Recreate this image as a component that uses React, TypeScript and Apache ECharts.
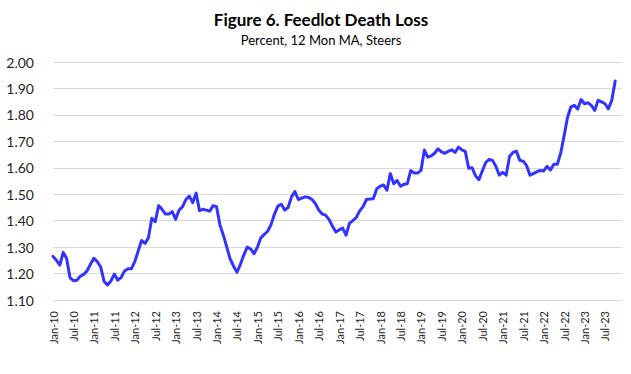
import React, { useEffect, useRef } from "react";
import * as echarts from "echarts";

const v2010 = [1.265, 1.25, 1.232, 1.28, 1.257, 1.184, 1.173, 1.175, 1.19, 1.197, 1.21, 1.235];
const v2011 = [1.258, 1.245, 1.225, 1.17, 1.157, 1.172, 1.198, 1.175, 1.185, 1.21, 1.218, 1.218];
const v2012 = [1.245, 1.285, 1.325, 1.314, 1.335, 1.409, 1.396, 1.457, 1.443, 1.425, 1.425, 1.434];
const v2013 = [1.405, 1.44, 1.452, 1.48, 1.493, 1.468, 1.504, 1.438, 1.443, 1.44, 1.436, 1.457];
const v2014 = [1.453, 1.384, 1.345, 1.3, 1.255, 1.228, 1.205, 1.235, 1.27, 1.3, 1.293, 1.275];
const v2015 = [1.3, 1.335, 1.348, 1.36, 1.385, 1.425, 1.455, 1.462, 1.44, 1.45, 1.49, 1.51];
const v2016 = [1.48, 1.485, 1.49, 1.488, 1.48, 1.465, 1.44, 1.425, 1.421, 1.405, 1.38, 1.357];
const v2017 = [1.365, 1.372, 1.345, 1.39, 1.4, 1.412, 1.437, 1.453, 1.48, 1.482, 1.483, 1.52];
const v2018 = [1.53, 1.535, 1.515, 1.578, 1.54, 1.552, 1.53, 1.538, 1.54, 1.59, 1.58, 1.58];
const v2019 = [1.59, 1.667, 1.64, 1.645, 1.655, 1.672, 1.66, 1.655, 1.662, 1.668, 1.658, 1.678];
const v2020 = [1.668, 1.662, 1.598, 1.6, 1.57, 1.555, 1.588, 1.62, 1.632, 1.628, 1.605, 1.572];
const v2021 = [1.583, 1.572, 1.643, 1.658, 1.663, 1.628, 1.625, 1.608, 1.572, 1.578, 1.585, 1.59];
const v2022 = [1.588, 1.605, 1.592, 1.613, 1.613, 1.655, 1.72, 1.79, 1.83, 1.836, 1.822, 1.858];
const v2023 = [1.842, 1.846, 1.836, 1.817, 1.855, 1.849, 1.842, 1.823, 1.855, 1.928];

const deathLoss: number[] = [
  ...v2010, ...v2011, ...v2012, ...v2013, ...v2014, ...v2015, ...v2016,
  ...v2017, ...v2018, ...v2019, ...v2020, ...v2021, ...v2022, ...v2023,
];

const monthNames = ["Jan", "Feb", "Mar", "Apr", "May", "Jun", "Jul", "Aug", "Sep", "Oct", "Nov", "Dec"];
const years = [10, 11, 12, 13, 14, 15, 16, 17, 18, 19, 20, 21, 22, 23];
const categories: string[] = [];
years.forEach((y) => monthNames.forEach((m) => categories.push(`${m}-${y}`)));

const titleText = "Figure 6. Feedlot Death Loss";
const subtitleText = "Percent, 12 Mon MA, Steers";
const FONT = "Lato, 'Open Sans', sans-serif";

export default function App() {
  const ref = useRef<HTMLDivElement>(null);
  useEffect(() => {
    if (!ref.current) return;
    const chart = echarts.init(ref.current, null, { renderer: "svg" });
    chart.setOption({
      animation: false,
      backgroundColor: "#ffffff",
      graphic: [
        {
          type: "text",
          x: 321,
          y: 19,
          style: {
            text: titleText,
            fontFamily: FONT,
            fontWeight: "bold",
            fontSize: 17,
            fill: "#000",
            textAlign: "center",
            textVerticalAlign: "middle",
          },
        },
        {
          type: "text",
          x: 321,
          y: 40,
          style: {
            text: subtitleText,
            fontFamily: FONT,
            fontSize: 13,
            fill: "#000",
            textAlign: "center",
            textVerticalAlign: "middle",
          },
        },
      ],
      grid: { left: 53, right: 9, top: 62, bottom: 74, containLabel: false },
      xAxis: {
        type: "category",
        data: categories,
        boundaryGap: false,
        axisLine: { show: true, lineStyle: { color: "#d9d9d9", width: 1 } },
        axisTick: { show: false },
        axisLabel: {
          interval: 5,
          rotate: 90,
          margin: 11,
          fontFamily: FONT,
          fontSize: 11,
          color: "#262626",
        },
        splitLine: { show: false },
      },
      yAxis: {
        type: "value",
        min: 1.1,
        max: 2.0,
        interval: 0.1,
        axisLine: { show: false },
        axisTick: { show: false },
        axisLabel: {
          margin: 19,
          fontFamily: FONT,
          fontSize: 14,
          color: "#262626",
          formatter: (v: number) => v.toFixed(2),
        },
        splitLine: { show: true, lineStyle: { color: "#d9d9d9", width: 1 } },
      },
      series: [
        {
          type: "line",
          data: deathLoss,
          showSymbol: false,
          symbol: "none",
          lineStyle: { color: "#3333ff", width: 3, join: "round", cap: "round" },
          itemStyle: { color: "#3333ff" },
        },
      ],
    });
    return () => chart.dispose();
  }, []);
  return (
    <div
      ref={ref}
      style={{ position: "fixed", left: 0, top: 0, width: 631, height: 374 }}
    />
  );
}
